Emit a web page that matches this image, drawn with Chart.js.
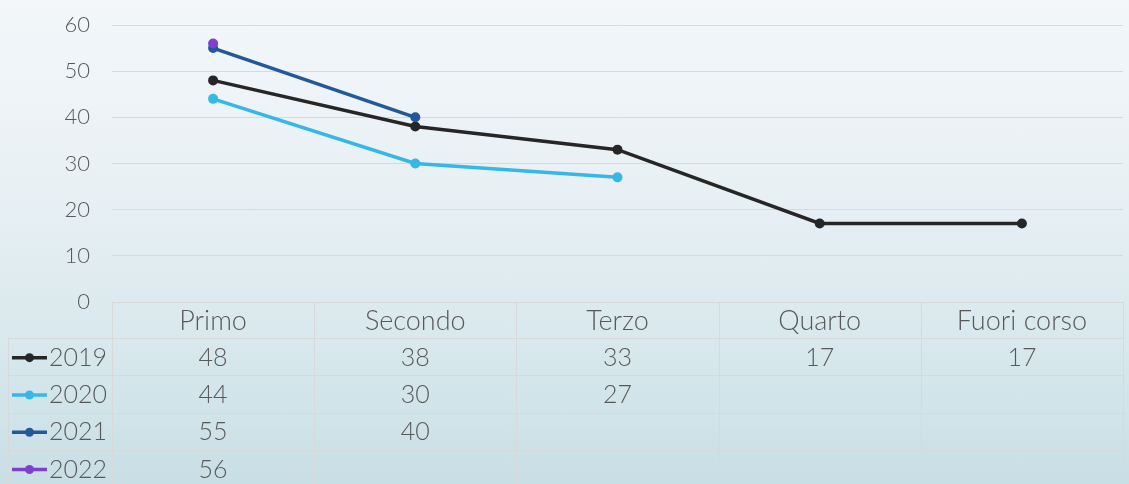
<!DOCTYPE html>
<html>
<head>
<meta charset="utf-8">
<script src="https://cdn.jsdelivr.net/npm/chart.js@4"></script>
<style>
  html, body { margin: 0; padding: 0; }
  body {
    width: 1129px;
    height: 484px;
    overflow: hidden;
    background: linear-gradient(180deg, #f3f7fa 0%, #e8f0f4 40%, #d6e7ec 75%, #c8dfe5 100%);
  }
  #wrap { position: relative; width: 1129px; height: 484px; }
</style>
</head>
<body>
<div id="wrap"><canvas id="my-line-Chart" width="1129" height="484"></canvas></div>
<script>
const categories = ["Primo", "Secondo", "Terzo", "Quarto", "Fuori corso"];
const years = ["2019", "2020", "2021", "2022"];
const values2019 = [48, 38, 33, 17, 17];
const values2020 = [44, 30, 27, null, null];
const values2021 = [55, 40, null, null, null];
const values2022 = [56, null, null, null, null];
const yTicks = [0, 10, 20, 30, 40, 50, 60];

const seriesValues = [values2019, values2020, values2021, values2022];
const colors = ["#262626", "#35b7e8", "#21599a", "#7f3fcf"];
const textColor = "#595959";
const fontFamily = "Lato, 'Noto Sans', sans-serif";

// data table under the plot, drawn from the same arrays
const dataTable = {
  id: "dataTable",
  afterDraw(chart) {
    const ctx = chart.ctx;
    const area = chart.chartArea;
    const x = chart.scales.x;
    const colW = (area.right - area.left) / categories.length;
    const top = area.bottom;
    const headH = 36;
    const rowH = 37.3;
    const legendLeft = 8;

    ctx.save();
    ctx.strokeStyle = "#d9d9d9";
    ctx.lineWidth = 1;

    // horizontal lines
    ctx.beginPath();
    ctx.moveTo(area.left, Math.round(top) + 0.5);
    ctx.lineTo(area.right, Math.round(top) + 0.5);
    for (let r = 0; r <= years.length; r++) {
      const y = Math.round(top + headH + r * rowH) + 0.5;
      ctx.moveTo(legendLeft, y);
      ctx.lineTo(area.right, y);
    }
    // vertical lines
    for (let c = 0; c <= categories.length; c++) {
      const xx = Math.round(area.left + c * colW) + 0.5;
      ctx.moveTo(xx, top);
      ctx.lineTo(xx, top + headH + years.length * rowH + 5);
    }
    ctx.moveTo(legendLeft + 0.5, top + headH);
    ctx.lineTo(legendLeft + 0.5, top + headH + years.length * rowH + 5);
    ctx.stroke();

    ctx.fillStyle = textColor;
    ctx.font = "300 27px " + fontFamily;
    ctx.textBaseline = "middle";
    ctx.textAlign = "center";
    categories.forEach((cat, i) => {
      ctx.fillText(cat, x.getPixelForValue(i), top + headH / 2 + 1);
    });

    ctx.font = "300 25px " + fontFamily;
    years.forEach((yr, r) => {
      const cy = top + headH + r * rowH + rowH / 2 + 1;
      // legend key
      ctx.strokeStyle = colors[r];
      ctx.lineWidth = 3.5;
      ctx.beginPath();
      ctx.moveTo(12, cy);
      ctx.lineTo(47, cy);
      ctx.stroke();
      ctx.fillStyle = colors[r];
      ctx.beginPath();
      ctx.arc(29.5, cy, 4.5, 0, Math.PI * 2);
      ctx.fill();

      ctx.fillStyle = textColor;
      ctx.textAlign = "left";
      ctx.fillText(yr, 49, cy);
      ctx.textAlign = "center";
      seriesValues[r].forEach((v, i) => {
        if (v !== null) ctx.fillText(String(v), x.getPixelForValue(i), cy);
      });
    });
    ctx.restore();
  },
};

let ctx = document.querySelector("#my-line-Chart");

let lineChart = new Chart(ctx, {
  type: "line",
  data: {
    labels: categories,
    datasets: years.map((yr, i) => ({
      label: yr,
      data: seriesValues[i],
      borderColor: colors[i],
      backgroundColor: colors[i],
      borderWidth: 3.5,
      pointRadius: 5,
      pointHoverRadius: 5,
      pointBorderWidth: 0,
      fill: false,
      tension: 0,
      order: years.length - i,
    })),
  },
  options: {
    responsive: false,
    animation: false,
    devicePixelRatio: 1,
    layout: {
      padding: { top: 25, bottom: 182, left: 0, right: 6 },
    },
    plugins: {
      legend: { display: false },
      tooltip: { enabled: false },
    },
    scales: {
      x: {
        type: "category",
        offset: true,
        display: false,
      },
      y: {
        min: 0,
        max: 60,
        afterFit(scale) {
          scale.width = 112;
          // tick padding would otherwise push the plot down
          scale.paddingTop = 0;
          scale.paddingBottom = 0;
        },
        afterBuildTicks(scale) {
          scale.ticks = yTicks.map((v) => ({ value: v }));
        },
        border: { display: false },
        grid: {
          color: (c) => (c.tick && c.tick.value === 0 ? "rgba(0,0,0,0)" : "#d9d9d9"),
          lineWidth: 1,
          drawTicks: false,
        },
        ticks: {
          padding: 22,
          color: textColor,
          font: { family: fontFamily, size: 22, weight: 300 },
        },
      },
    },
  },
  plugins: [dataTable],
});
</script>
</body>
</html>
